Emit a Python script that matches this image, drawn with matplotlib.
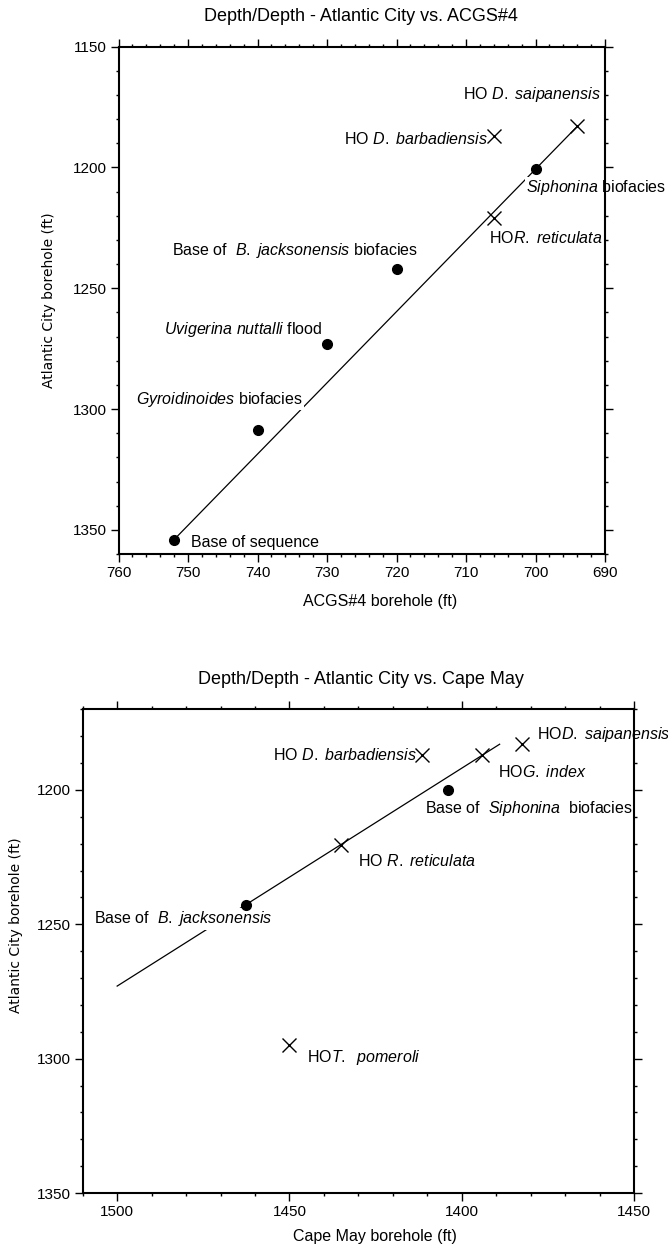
import matplotlib
matplotlib.use('Agg')
import matplotlib.pyplot as plt
from matplotlib.ticker import MultipleLocator, FixedLocator

plt.rcParams['font.family'] = ['Liberation Sans', 'DejaVu Sans']
plt.rcParams['mathtext.fontset'] = 'custom'
plt.rcParams['mathtext.rm'] = 'Liberation Sans'
plt.rcParams['mathtext.it'] = 'Liberation Sans:italic'

# Atlantic City vs. ACGS#4 (x = ACGS#4 depth, y = Atlantic City depth)
acgs_dot_x = [700, 720, 730, 740, 752]
acgs_dot_y = [1200.5, 1242, 1273, 1308.5, 1354]
acgs_cross_x = [694, 706, 706]
acgs_cross_y = [1183, 1187, 1221]
acgs_fit_x = [752, 694]
acgs_fit_y = [1354, 1183]

# Atlantic City vs. Cape May (x = Cape May depth, y = Atlantic City depth)
cm_dot_x = [1404, 1462.5]
cm_dot_y = [1200, 1243]
cm_cross_x = [1382.5, 1394, 1411.5, 1435, 1450]
cm_cross_y = [1183, 1187, 1187, 1220.5, 1295]
cm_fit_x = [1500, 1389]
cm_fit_y = [1273, 1183]
cm_tick_vals = [1500, 1450, 1400, 1350]
cm_tick_labels = ['1500', '1450', '1400', '1450']

W, H = 668, 1250
fig = plt.figure(figsize=(W / 100, H / 100), dpi=100)


def box(left, top, right, bottom):
    return [left / W, 1 - bottom / H, (right - left) / W, (bottom - top) / H]


def style(ax):
    for s in ax.spines.values():
        s.set_linewidth(1.5)
    ax.tick_params(which='both', direction='out', top=True, right=True,
                   labeltop=False, labelright=False, width=1)
    ax.tick_params(which='major', length=5.5, pad=3, labelsize=11)
    ax.tick_params(which='minor', length=2.5)


lab = dict(fontsize=11.5, va='center', ha='left', zorder=2.5,
           bbox=dict(fc='white', ec='none', pad=1))

# ---- top panel
ax1 = fig.add_axes(box(118.6, 46.7, 605, 554))
ax1.plot(acgs_fit_x, acgs_fit_y, color='black', lw=0.9, zorder=2)
ax1.plot(acgs_dot_x, acgs_dot_y, 'o', color='black', ms=7, zorder=3)
ax1.plot(acgs_cross_x, acgs_cross_y, 'x', color='black', ms=10, mew=1, zorder=3)
ax1.set_xlim(760, 690)
ax1.set_ylim(1360, 1150)
ax1.xaxis.set_major_locator(MultipleLocator(10))
ax1.xaxis.set_minor_locator(MultipleLocator(2))
ax1.yaxis.set_major_locator(FixedLocator([1150, 1200, 1250, 1300, 1350]))
ax1.yaxis.set_minor_locator(MultipleLocator(10))
style(ax1)

ax1.text(710.5, 1169.7, r'HO $\mathit{D.\ saipanensis}$', **lab)
ax1.text(727.5, 1188.3, r'HO $\mathit{D.\ barbadiensis}$', **lab)
ax1.text(701.3, 1208.4, r'$\mathit{Siphonina}$ biofacies', **lab)
ax1.text(706.7, 1229.3, r'HO$\mathit{R.\ reticulata}$', **lab)
ax1.text(752.3, 1234.4, r'Base of  $\mathit{B.\ jacksonensis}$ biofacies', **lab)
ax1.text(753.5, 1267.0, r'$\mathit{Uvigerina\ nuttalli}$ flood', **lab)
ax1.text(757.5, 1295.9, r'$\mathit{Gyroidinoides}$ biofacies', **lab)
ax1.text(749.6, 1355.3, 'Base of sequence', **lab)

fig.text(361 / W, 1 - 16.7 / H, 'Depth/Depth - Atlantic City vs. ACGS#4',
         fontsize=13, ha='center', va='center')
fig.text(380 / W, 1 - 601.7 / H, 'ACGS#4 borehole (ft)',
         fontsize=11.5, ha='center', va='center')
fig.text(49 / W, 1 - 300 / H, 'Atlantic City borehole (ft)', rotation=90,
         fontsize=10, ha='center', va='center', family='DejaVu Sans')

# ---- bottom panel
ax2 = fig.add_axes(box(82.7, 709.3, 634, 1193))
ax2.plot(cm_fit_x, cm_fit_y, color='black', lw=0.9, zorder=2)
ax2.plot(cm_dot_x, cm_dot_y, 'o', color='black', ms=7, zorder=3)
ax2.plot(cm_cross_x, cm_cross_y, 'x', color='black', ms=10, mew=1, zorder=3)
ax2.set_xlim(1510, 1350)
ax2.set_ylim(1350, 1170)
ax2.xaxis.set_major_locator(FixedLocator(cm_tick_vals))
ax2.set_xticklabels(cm_tick_labels)
ax2.xaxis.set_minor_locator(MultipleLocator(10))
ax2.yaxis.set_major_locator(FixedLocator([1200, 1250, 1300, 1350]))
ax2.yaxis.set_minor_locator(MultipleLocator(10))
style(ax2)

ax2.text(1378.1, 1179.5, r'HO$\mathit{D.\ saipanensis}$', **lab)
ax2.text(1454.7, 1187.0, r'HO $\mathit{D.\ barbadiensis}$', **lab)
ax2.text(1389.4, 1193.4, r'HO$\mathit{G.\ index}$', **lab)
ax2.text(1410.6, 1206.8, r'Base of  $\mathit{Siphonina}$  biofacies', **lab)
ax2.text(1430.0, 1226.4, r'HO $\mathit{R.\ reticulata}$', **lab)
ax2.text(1506.8, 1247.9, r'Base of  $\mathit{B.\ jacksonensis}$', **lab)
ax2.text(1444.9, 1299.5, r'HO$\mathit{T.\ \ pomeroli}$', **lab)

fig.text(360.6 / W, 1 - 680 / H, 'Depth/Depth - Atlantic City vs. Cape May',
         fontsize=13, ha='center', va='center')
fig.text(374.6 / W, 1 - 1237 / H, 'Cape May borehole (ft)',
         fontsize=11.5, ha='center', va='center')
fig.text(16.5 / W, 1 - 925 / H, 'Atlantic City borehole (ft)', rotation=90,
         fontsize=10, ha='center', va='center', family='DejaVu Sans')

fig.savefig('out.png', dpi=100)
